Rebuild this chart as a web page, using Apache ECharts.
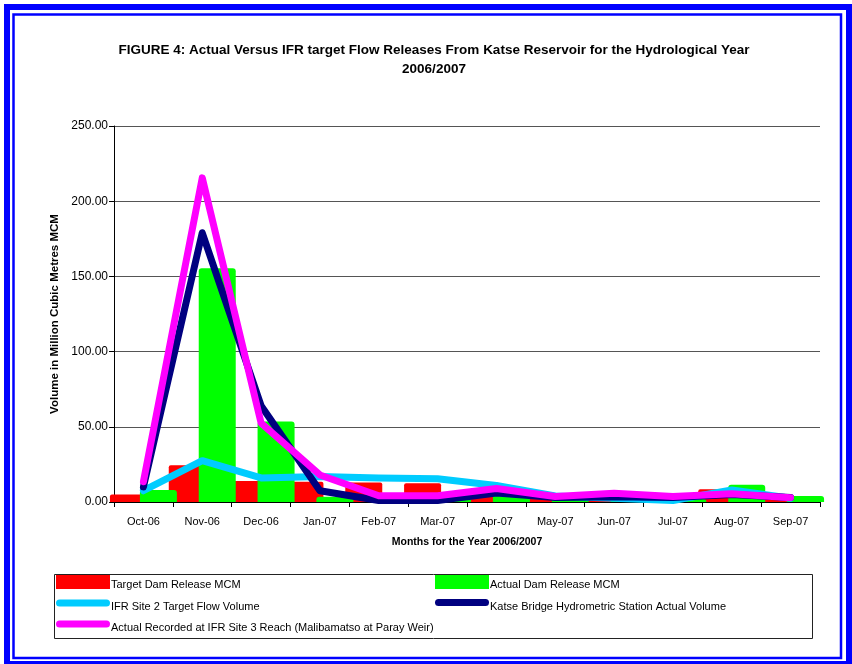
<!DOCTYPE html>
<html>
<head>
<meta charset="utf-8">
<script src="https://cdn.jsdelivr.net/npm/echarts@6/dist/echarts.min.js"></script>
<style>
html,body{margin:0;padding:0;background:#fff;}
#chart{width:852px;height:664px;}
</style>
</head>
<body>
<div id="chart"></div>
<script>
var categories = ['Oct-06','Nov-06','Dec-06','Jan-07','Feb-07','Mar-07','Apr-07','May-07','Jun-07','Jul-07','Aug-07','Sep-07'];
var targetDamRelease = [5, 24.5, 14, 13.5, 13, 12.5, 8.5, 4.5, 1.5, 0.5, 8.5, 3.5];
var actualDamRelease = [8, 155.5, 53.5, 3.5, 1.5, 3, 6, 2, 1, 2, 11.5, 4];
var ifrSite2Target = [7.5, 27.5, 16, 17, 16, 15.5, 11, 4, 2.5, 1, 8, 2.5];
var katseBridge = [10, 179, 64, 7.5, 1, 1, 6, 3, 3.5, 3, 5, 3];
var ifrSite3Actual = [13.5, 215.5, 52.5, 18, 4.2, 4.2, 9, 3.6, 5.8, 3.6, 5.5, 2.9];
var yTicks = [0, 50, 100, 150, 200, 250];

var names = ['Target Dam Release MCM','Actual Dam Release MCM','IFR Site 2 Target Flow Volume','Katse Bridge Hydrometric Station Actual Volume','Actual Recorded at IFR Site 3 Reach (Malibamatso at Paray Weir)'];
var FONT = "'Liberation Sans', Arial, sans-serif";
// icons padded at the bottom (extra moveTo) so the legend text sits a little lower than the icon, as in the original
var pillIcon = 'path://M3.5,0H50.5A3.5,3.5,0,0,1,50.5,7H3.5A3.5,3.5,0,0,1,3.5,0Z M0,15';
var rectIcon = 'path://M0,0H54V14H0Z M0,20';

function legendItem(name, left, top, isLine) {
  return {
    data: [name], left: left, top: top, padding: 0, selectedMode: false,
    itemWidth: 54, itemHeight: isLine ? 15 : 20,
    icon: isLine ? pillIcon : rectIcon,
    textStyle: {fontFamily: FONT, fontSize: 11, color: '#000', padding: [0,0,0,-4]}
  };
}

var chart = echarts.init(document.getElementById('chart'), null, {renderer: 'canvas'});
var option = {
  backgroundColor: '#fff',
  animation: false,
  grid: {left: 114, right: 32, top: 126, bottom: 162},
  graphic: [
    {type: 'rect', shape: {x: 7, y: 7, width: 842, height: 657}, style: {fill: 'none', stroke: '#0000ff', lineWidth: 6}, z: 10},
    {type: 'rect', shape: {x: 13.5, y: 14.5, width: 827.5, height: 643.5}, style: {fill: 'none', stroke: '#0000ff', lineWidth: 2.5}, z: 10},
    {type: 'rect', shape: {x: 54.5, y: 574.5, width: 758, height: 64}, style: {fill: 'none', stroke: '#222', lineWidth: 1}, z: 0},
    {type: 'text', x: 434, y: 60, style: {text: 'FIGURE 4: Actual Versus IFR target Flow Releases From Katse Reservoir for the Hydrological Year\n2006/2007', fontFamily: FONT, fontSize: 13.5, fontWeight: 'bold', fill: '#000', textAlign: 'center', textVerticalAlign: 'middle', lineHeight: 19}}
  ],
  legend: [
    legendItem(names[0], 56, 575, false),
    legendItem(names[1], 435, 575, false),
    legendItem(names[2], 56, 599.5, true),
    legendItem(names[3], 435, 599, true),
    legendItem(names[4], 56, 620.5, true)
  ],
  xAxis: {
    type: 'category', data: categories, boundaryGap: true,
    name: 'Months for the Year 2006/2007', nameLocation: 'middle', nameGap: 35,
    nameTextStyle: {fontFamily: FONT, fontSize: 10.5, fontWeight: 'bold', color: '#000'},
    axisLine: {lineStyle: {color: '#000', width: 1}},
    axisTick: {show: true, alignWithLabel: false, length: 5, lineStyle: {color: '#000'}},
    axisLabel: {fontFamily: FONT, fontSize: 11, color: '#000', margin: 14, interval: 0},
    splitLine: {show: false}
  },
  yAxis: {
    type: 'value', min: 0, max: 250, interval: 50,
    name: 'Volume in Million Cubic Metres MCM', nameLocation: 'middle', nameGap: 51, nameRotate: 90,
    nameTextStyle: {fontFamily: FONT, fontSize: 11.5, fontWeight: 'bold', color: '#000'},
    axisLine: {show: true, lineStyle: {color: '#000', width: 1}},
    axisTick: {show: true, length: 5, lineStyle: {color: '#000'}},
    axisLabel: {fontFamily: FONT, fontSize: 12, color: '#000', margin: 6, formatter: function (v) { return yTicks.indexOf(v) >= 0 ? v.toFixed(2) : ''; }},
    splitLine: {show: true, lineStyle: {color: '#555', width: 1}}
  },
  series: [
    {name: names[0], type: 'bar', data: targetDamRelease, barWidth: 37, barGap: '-19%', clip: false,
     itemStyle: {color: '#ff0000', borderRadius: [2,2,0,0]}},
    {name: names[1], type: 'bar', data: actualDamRelease, barWidth: 37, barGap: '-19%', clip: false,
     itemStyle: {color: '#00ff00', borderRadius: [3,3,0,0]}},
    {name: names[2], type: 'line', data: ifrSite2Target, symbol: 'none', color: '#00ccff',
     lineStyle: {color: '#00ccff', width: 7, cap: 'round', join: 'round'}},
    {name: names[3], type: 'line', data: katseBridge, symbol: 'none', color: '#000080',
     lineStyle: {color: '#000080', width: 7, cap: 'round', join: 'round'}},
    {name: names[4], type: 'line', data: ifrSite3Actual, symbol: 'none', color: '#ff00ff',
     lineStyle: {color: '#ff00ff', width: 7, cap: 'round', join: 'round'}}
  ]
};
chart.setOption(option);
</script>
</body>
</html>
